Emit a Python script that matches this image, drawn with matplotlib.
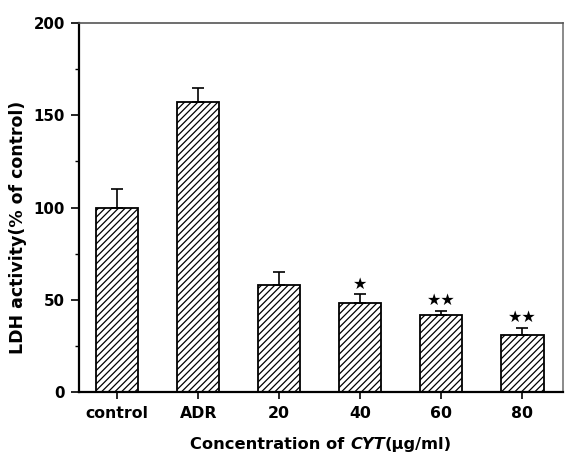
import matplotlib
matplotlib.use("Agg")
import matplotlib.pyplot as plt
from matplotlib.offsetbox import TextArea, HPacker, AnchoredOffsetbox
import numpy as np

categories = ["control", "ADR", "20", "40", "60", "80"]
values = [100, 157, 58, 48, 41.5, 31]
errors = [10, 8, 7, 5, 2.5, 3.7]
marks = ["", "", "", "★", "★★", "★★"]

plt.rcParams['font.family'] = ['DejaVu Sans']
plt.rcParams['hatch.linewidth'] = 0.9

fig = plt.figure(figsize=(5.75, 4.59), dpi=100)
ax = fig.add_axes([79/575, 1-392/459, (563-79)/575, (392-23)/459])

x = np.arange(len(categories))
ax.bar(x, values, width=0.52, color='white', edgecolor='black', linewidth=1.3,
       hatch='/////', zorder=2)
ax.errorbar(x, values, yerr=[np.zeros(len(errors)), errors], fmt='none',
            ecolor='black', elinewidth=1.2, capsize=4, capthick=1.2, zorder=3)
for xi, v, e, m in zip(x, values, errors, marks):
    if m:
        ax.text(xi, v + e + 5.5, m, ha='center', va='center', fontsize=11.5,
                fontweight='bold')

ax.set_xlim(-0.47, 5.5)
ax.set_ylim(0, 200)
ax.set_yticks([0, 50, 100, 150, 200])
ax.set_yticks([25, 75, 125, 175], minor=True)
ax.set_xticks(x)
ax.set_xticklabels(categories, fontsize=11.3, fontweight='bold')
for lbl in ax.get_yticklabels():
    lbl.set_fontsize(10.8)
    lbl.set_fontweight('bold')
ax.tick_params(axis='y', which='major', direction='out', length=6, width=1.2, pad=4)
ax.tick_params(axis='y', which='minor', direction='out', length=3, width=1.0)
ax.tick_params(axis='x', which='major', direction='out', length=5, width=1.2, pad=5)

ax.spines['left'].set_linewidth(1.6)
ax.spines['bottom'].set_linewidth(1.6)
ax.spines['top'].set_linewidth(1.2)
ax.spines['top'].set_color('#555555')
ax.spines['right'].set_linewidth(1.2)
ax.spines['right'].set_color('#777777')

ax.set_ylabel("LDH activity(% of control)", fontsize=12.5, fontweight='bold')
ax.yaxis.set_label_coords(-0.108, 0.445)

xl_props = dict(fontsize=11.7, fontweight='bold', color='black')
parts = [
    TextArea("Concentration of ", textprops=xl_props),
    TextArea("CYT", textprops=dict(xl_props, style='italic')),
    TextArea("(μg/ml)", textprops=xl_props),
]
box = HPacker(children=parts, align="baseline", pad=0, sep=0)
anch = AnchoredOffsetbox(loc='center', child=box, pad=0, frameon=False,
                         bbox_to_anchor=(0.5, -0.143), bbox_transform=ax.transAxes,
                         borderpad=0)
ax.add_artist(anch)

fig.savefig("out.png", dpi=100)
